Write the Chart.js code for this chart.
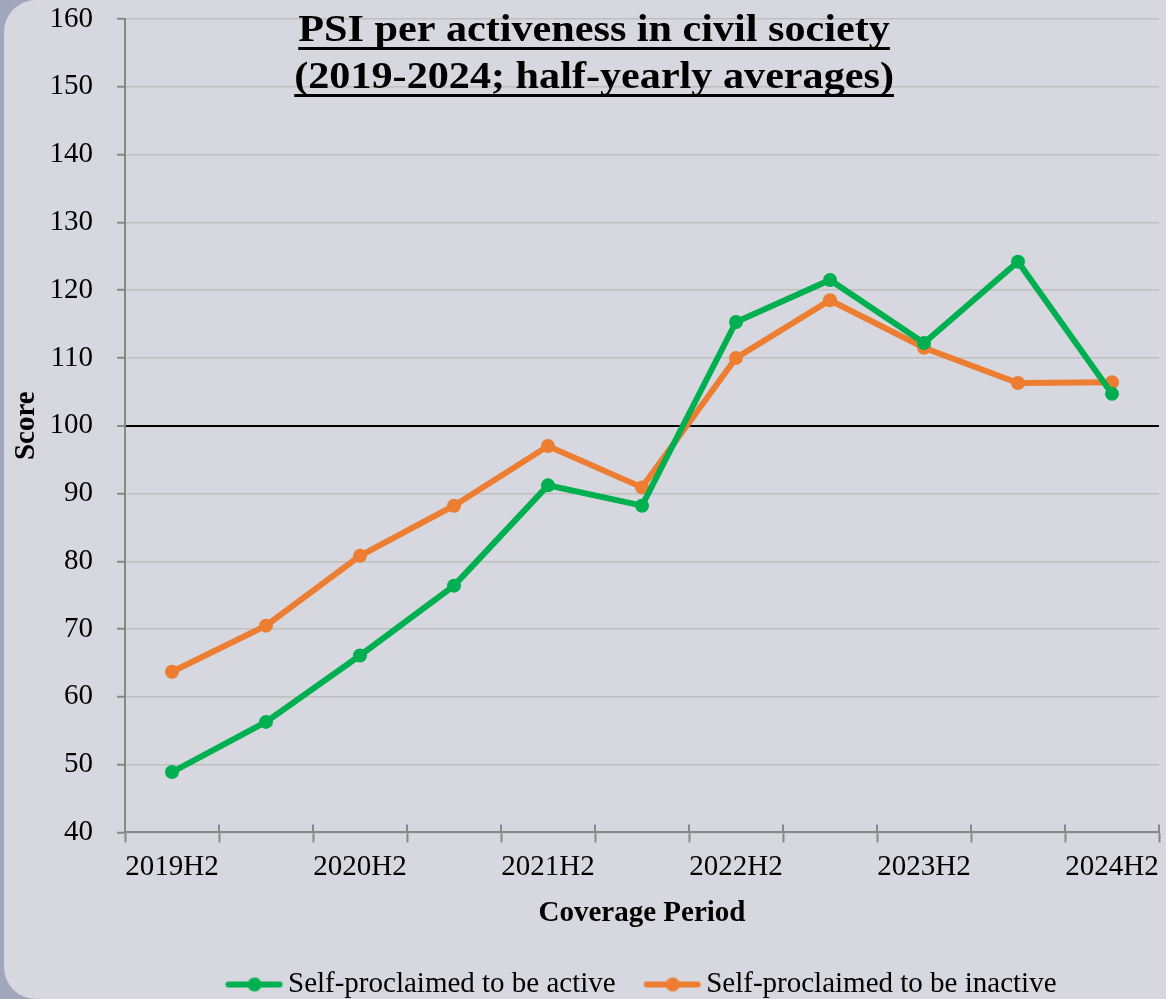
<!DOCTYPE html>
<html>
<head>
<meta charset="utf-8">
<script src="https://cdn.jsdelivr.net/npm/chart.js@4.4.1/dist/chart.umd.min.js"></script>
<style>
  html, body { margin: 0; padding: 0; }
  body { width: 1166px; height: 999px; background: #a3a7bd; position: relative; overflow: hidden; }
  #card { position: absolute; left: 4px; top: 0; width: 1200px; height: 999px; background: #d6d7df; border-radius: 32px 0 0 32px; }
  #wrap { position: absolute; left: 0; top: 0; width: 1166px; height: 999px; }
</style>
</head>
<body>
<div id="card"></div>
<div id="wrap"><canvas id="c" width="1166" height="999"></canvas></div>
<script>
const categories = ["2019H2","2020H1","2020H2","2021H1","2021H2","2022H1","2022H2","2023H1","2023H2","2024H1","2024H2"];
const activeValues = [48.9, 56.3, 66.1, 76.4, 91.2, 88.2, 115.3, 121.5, 112.2, 124.2, 104.7];
const inactiveValues = [63.7, 70.5, 80.8, 88.2, 97.0, 90.9, 110.0, 118.5, 111.5, 106.3, 106.4];
const seriesNames = ["Self-proclaimed to be active", "Self-proclaimed to be inactive"];
const titleLines = ["PSI per activeness in civil society", "(2019-2024; half-yearly averages)"];
const yMin = 40, yMax = 160, yStep = 10, refValue = 100;

const GREEN = "#00b050", ORANGE = "#ed7d31";
const FONT = "'Liberation Serif', 'Times New Roman', serif";
Chart.defaults.font.family = FONT;
Chart.defaults.color = "#000";

function legendMarker(color) {
  const W = 66, H = 18;
  const cv = document.createElement("canvas");
  cv.width = W; cv.height = H;
  const g = cv.getContext("2d");
  g.strokeStyle = color; g.lineWidth = 6; g.lineCap = "round";
  g.beginPath(); g.moveTo(11, H/2); g.lineTo(W - 4, H/2); g.stroke();
  g.fillStyle = color;
  g.beginPath(); g.arc(8 + 58/2, H/2, 7, 0, Math.PI*2); g.fill();
  return cv;
}
const markers = [legendMarker(GREEN), legendMarker(ORANGE)];

const titlePlugin = {
  id: "inTitle",
  afterDraw(chart) {
    const ctx = chart.ctx;
    const x = chart.width * 0.5095;
    const baselines = [41, 88];
    const sx = 1.11;
    ctx.save();
    ctx.font = "bold 38px " + FONT;
    ctx.fillStyle = "#000";
    ctx.textAlign = "center";
    ctx.textBaseline = "alphabetic";
    ctx.translate(x, 0);
    ctx.scale(sx, 1);
    titleLines.forEach((t, i) => {
      ctx.fillText(t, 0, baselines[i]);
      const w = ctx.measureText(t).width;
      ctx.fillRect(-w/2, baselines[i] + 6, w, 3);
    });
    ctx.restore();
  }
};

const crossTicks = {
  id: "crossTicks",
  afterDraw(chart) {
    const s = chart.scales.x;
    const ctx = chart.ctx;
    const n = categories.length;
    const w = (s.right - s.left) / n;
    ctx.save();
    ctx.strokeStyle = "#888";
    ctx.lineWidth = 2;
    for (let k = 0; k <= n; k++) {
      const px = Math.round(s.left + k * w);
      ctx.beginPath(); ctx.moveTo(px, s.top - 8); ctx.lineTo(px, s.top); ctx.stroke();
    }
    ctx.restore();
  }
};

new Chart(document.getElementById("c"), {
  type: "line",
  data: {
    labels: categories,
    datasets: [
      { label: seriesNames[0], data: activeValues, borderColor: GREEN, backgroundColor: GREEN,
        borderWidth: 6, pointRadius: 7, pointHoverRadius: 7, pointBorderWidth: 0, tension: 0 },
      { label: seriesNames[1], data: inactiveValues, borderColor: ORANGE, backgroundColor: ORANGE,
        borderWidth: 6, pointRadius: 7, pointHoverRadius: 7, pointBorderWidth: 0, tension: 0 }
    ]
  },
  options: {
    responsive: false,
    animation: false,
    layout: { padding: { left: 4, right: -3, top: 0, bottom: -10 } },
    plugins: {
      tooltip: { enabled: false },
      title: { display: false },
      legend: {
        position: "bottom",
        fullSize: false,
        labels: {
          usePointStyle: true,
          pointStyleWidth: 46,
          padding: 30,
          font: { size: 29 },
          color: "#000",
          generateLabels(chart) {
            const items = Chart.defaults.plugins.legend.labels.generateLabels(chart);
            items.forEach((it, i) => { it.pointStyle = markers[i]; });
            return items;
          }
        }
      }
    },
    scales: {
      x: {
        offset: true,
        afterFit(s) { s.paddingLeft = 0; s.paddingRight = 0; },
        grid: { offset: true, drawOnChartArea: false, drawTicks: true, tickLength: 10, tickColor: "#888", tickWidth: 2, color: "#888" },
        border: { color: "#888", width: 2 },
        ticks: {
          autoSkip: false, maxRotation: 0, minRotation: 0, padding: 8,
          font: { size: 29 }, color: "#000",
          callback(v, i) { return i % 2 === 0 ? categories[i] : ""; }
        },
        title: { display: true, text: "Coverage Period", font: { size: 29, weight: "bold" }, color: "#000", padding: { top: 3, bottom: 9 } }
      },
      y: {
        min: yMin, max: yMax,
        afterFit(s) { s.width = 121; s.paddingTop = 19; s.paddingBottom = 0; },
        grid: {
          color: (c) => c.tick && c.tick.value === refValue ? "#000" : "#bfbfbf",
          lineWidth: (c) => c.tick && c.tick.value === refValue ? 2 : 1.5,
          tickLength: 8, tickColor: "#888", tickWidth: 2
        },
        border: { color: "#888", width: 2 },
        ticks: { stepSize: yStep, padding: 24, font: { size: 29 }, color: "#000" },
        title: { display: true, text: "Score", font: { size: 29, weight: "bold" }, color: "#000", padding: { top: 5, bottom: 5 } }
      }
    }
  },
  plugins: [titlePlugin, crossTicks]
});
</script>
</body>
</html>
